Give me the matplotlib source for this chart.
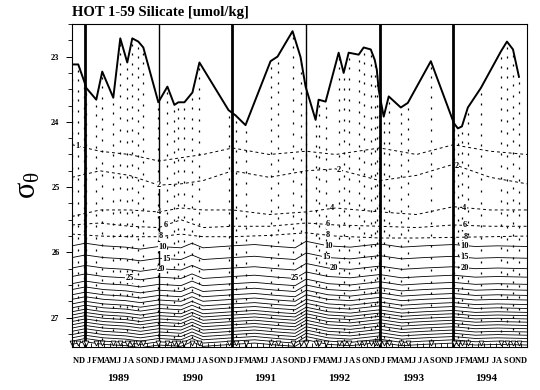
import matplotlib.pyplot as plt
import matplotlib.transforms as mtransforms
import numpy as np

plt.rcParams['font.family'] = ['Liberation Serif', 'DejaVu Serif']
plt.rcParams['font.weight'] = 'bold'
plt.rcParams['mathtext.fontset'] = 'dejavusans'
plt.rcParams['mathtext.default'] = 'regular'

# cruise times (decimal year) and shallowest sigma-theta of each profile
cruise_t = [1988.823, 1988.905, 1988.986, 1989.014, 1989.150, 1989.231, 1989.381,
            1989.476, 1989.571, 1989.639, 1989.721, 1989.789, 1989.993, 1990.116,
            1990.211, 1990.265, 1990.347, 1990.456, 1990.551, 1990.946, 1991.041,
            1991.177, 1991.517, 1991.612, 1991.816, 1991.925, 1991.993, 1992.129,
            1992.170, 1992.265, 1992.442, 1992.510, 1992.578, 1992.714, 1992.782,
            1992.878, 1992.932, 1992.960, 1992.986, 1993.054, 1993.122, 1993.286,
            1993.381, 1993.694, 1994.007, 1994.061, 1994.116, 1994.197, 1994.374,
            1994.646, 1994.728, 1994.810, 1994.891]
surf_sig = [23.12, 23.12, 23.38, 23.48, 23.66, 23.23, 23.63,
            22.72, 23.09, 22.72, 22.77, 22.86, 23.70, 23.46,
            23.74, 23.70, 23.70, 23.55, 23.09, 23.82, 23.90,
            24.05, 23.07, 23.00, 22.61, 23.01, 23.46, 23.97,
            23.66, 23.69, 22.94, 23.25, 22.94, 22.97, 22.86,
            22.89, 23.05, 23.20, 23.51, 23.92, 23.61, 23.78,
            23.71, 23.07, 24.02, 24.10, 24.07, 23.78, 23.48,
            22.92, 22.77, 22.89, 23.31]

# bottle samples: sigma-theta below the surface value
sample_off = [0.10, 0.24, 0.40, 0.55, 0.72, 0.88, 1.05, 1.22, 1.40, 1.58, 1.76,
              1.94, 2.12, 2.30, 2.48, 2.66, 2.84, 3.02, 3.20, 3.38, 3.56, 3.74,
              3.92, 4.10, 4.28]

# shallow silicate contours (dashed)
dash_t = [1988.82, 1989.2, 1989.6, 1990.0, 1990.3, 1990.6, 1991.0, 1991.5,
          1992.0, 1992.4, 1993.0, 1993.5, 1994.0, 1994.5, 1995.0]
sil1 = [24.35, 24.45, 24.50, 24.60, 24.55, 24.50, 24.40, 24.50, 24.45, 24.50, 24.40, 24.50, 24.35, 24.45, 24.50]
sil2 = [24.85, 24.75, 24.82, 24.97, 24.95, 24.90, 24.75, 24.85, 24.75, 24.72, 24.90, 24.82, 24.65, 24.85, 24.95]
sil4 = [25.45, 25.35, 25.35, 25.38, 25.32, 25.35, 25.35, 25.42, 25.38, 25.32, 25.38, 25.42, 25.30, 25.35, 25.35]
sil6 = [25.58, 25.55, 25.60, 25.62, 25.50, 25.62, 25.60, 25.60, 25.55, 25.58, 25.60, 25.62, 25.58, 25.60, 25.60]
sil8 = [25.72, 25.75, 25.76, 25.76, 25.72, 25.76, 25.76, 25.74, 25.70, 25.75, 25.78, 25.78, 25.77, 25.76, 25.75]
dash_levels = [1, 2, 4, 6, 8]
dash_sig = [sil1, sil2, sil4, sil6, sil8]

# deeper silicate contours (solid): mean sigma-theta and shared heave
solid_levels = [10, 15, 20, 25, 30, 35, 40, 45, 50, 55, 60, 65, 70, 75, 80,
                85, 90, 95, 100, 105, 110]
solid_sig = [25.90, 26.08, 26.24, 26.37, 26.48, 26.57, 26.65, 26.72, 26.79, 26.85,
             26.91, 26.96, 27.01, 27.06, 27.11, 27.16, 27.21, 27.26, 27.31, 27.36,
             27.41]
heave_t = [1988.82, 1989.0, 1989.25, 1989.55, 1989.75, 1990.0, 1990.3, 1990.45,
           1990.6, 1991.0, 1991.3, 1991.6, 1991.85, 1992.0, 1992.3, 1992.6,
           1993.0, 1993.3, 1993.6, 1994.0, 1994.3, 1994.6, 1995.0]
heave = [0.00, -0.04, 0.00, 0.02, 0.05, 0.01, 0.03, -0.04, 0.03, 0.00, -0.02, 0.01,
         0.03, -0.07, 0.00, 0.02, -0.03, 0.02, 0.00, -0.02, 0.01, 0.00, 0.01]

# contour label times
label_t = {1: [1988.9], 2: [1990.0, 1992.45, 1994.05], 4: [1990.0, 1992.35, 1994.15],
           6: [1990.1, 1992.3, 1994.15], 8: [1990.03, 1992.3, 1994.17],
           10: [1990.05, 1992.3, 1994.15], 15: [1990.1, 1992.28, 1994.15],
           20: [1990.03, 1992.38, 1994.15], 25: [1989.6, 1991.85]}

years = [1989, 1990, 1991, 1992, 1993, 1994]
year_line_w = [2.0, 1.0, 2.0, 1.0, 2.0, 2.0]
months = 'ND' + 'JFMAMJJASOND' * 6

fig = plt.figure(figsize=(5.4, 3.9), dpi=100)
ax = fig.add_axes([0.1333, 0.1103, 0.8426, 0.8282])

# sample dots
for t, s in zip(cruise_t, surf_sig):
    ys = [s + o for o in sample_off if s + o < 27.45]
    ax.plot([t] * len(ys), ys, '|', color='k', ms=1.4, mew=0.9)

# dashed contours
for lev, sig in zip(dash_levels, dash_sig):
    ax.plot(dash_t, sig, color='k', lw=0.7, linestyle=(0, (3, 3)))
    for tl in label_t.get(lev, []):
        ax.text(tl, np.interp(tl, dash_t, sig), str(lev), fontsize=6, ha='center',
                va='center', bbox=dict(fc='white', ec='none', pad=0.2))

# solid contours
for lev, base in zip(solid_levels, solid_sig):
    ys = [base + h for h in heave]
    ax.plot(heave_t, ys, color='k', lw=0.6)
    for tl in label_t.get(lev, []):
        ax.text(tl, np.interp(tl, heave_t, ys), str(lev), fontsize=6, ha='center',
                va='center', bbox=dict(fc='white', ec='none', pad=0.2))

# surface sigma-theta
ax.plot(cruise_t, surf_sig, color='k', lw=1.4)

for yr, w in zip(years, year_line_w):
    ax.axvline(yr, color='k', lw=w)

# cruise markers on bottom axis
trans = mtransforms.blended_transform_factory(ax.transData, ax.transAxes)
ax.plot(cruise_t, [0.012] * len(cruise_t), 'v', transform=trans, ms=3.5,
        mfc='white', mec='k', mew=0.6, clip_on=False)

ax.set_xlim(1988.82, 1995.0)
ax.set_ylim(27.45, 22.5)

month_t = [1988 + 10 / 12 + 0.5 / 12 + i / 12 for i in range(len(months))]
ax.set_xticks([1988 + 10 / 12 + i / 12 for i in range(len(months) + 1)], minor=True)
ax.set_xticks([])
ax.tick_params(axis='x', which='minor', direction='in', length=3, width=0.6)
for t, m in zip(month_t, months):
    ax.text(t, -0.03, m, transform=trans, fontsize=6, ha='center', va='top')
for yr in years:
    ax.text(yr + 0.45, -0.085, str(yr), transform=trans, fontsize=8, ha='center', va='top')

ax.set_yticks([23, 24, 25, 26, 27])
ax.set_yticklabels(['23', '24', '25', '26', '27'], fontsize=6)
ax.set_yticks(np.arange(22.5, 27.5, 0.25), minor=True)
ax.tick_params(axis='y', which='major', length=4, width=0.7, pad=5)
ax.tick_params(axis='y', which='minor', length=3, width=0.6)
for sp in ax.spines.values():
    sp.set_linewidth(0.8)

ax.set_ylabel(r'$\sigma_\theta$', fontsize=22, fontweight='normal', labelpad=6)
fig.text(0.1333, 0.968, 'HOT 1-59 Silicate [umol/kg]', fontsize=10.5, ha='left', va='center')

fig.savefig('out.png', dpi=100)
